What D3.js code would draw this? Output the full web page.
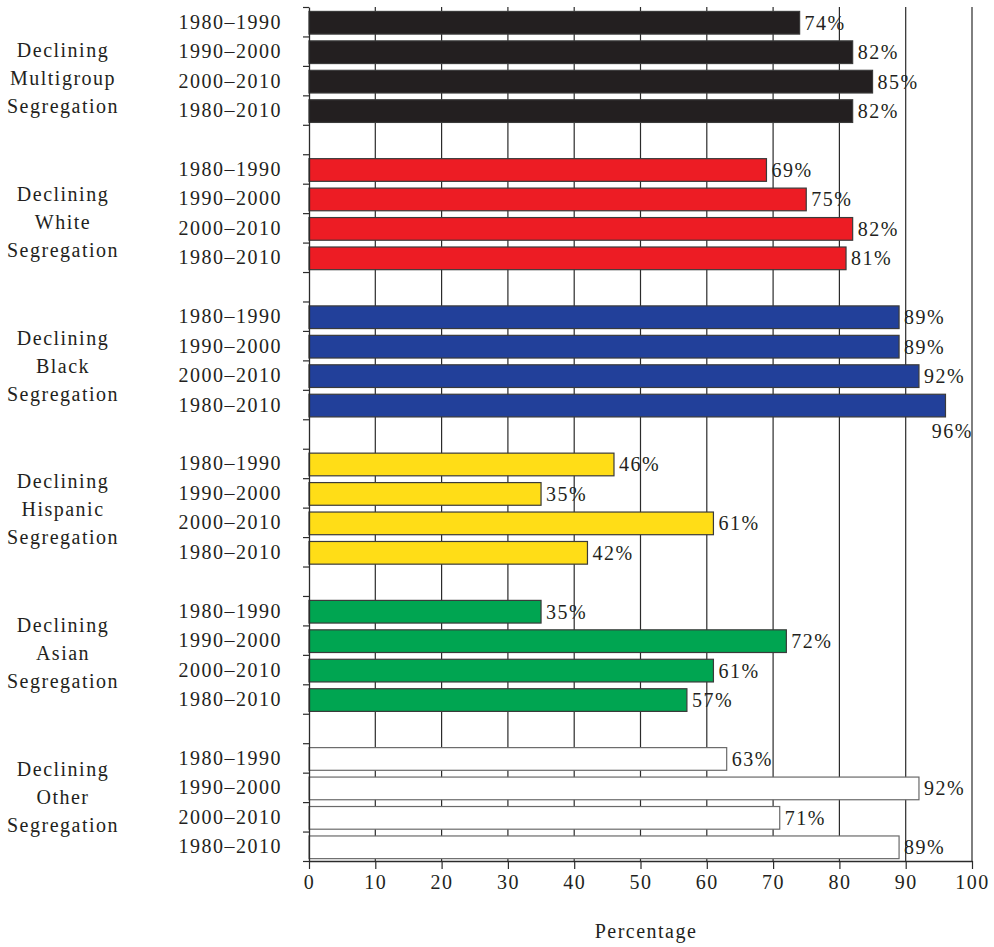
<!DOCTYPE html>
<html>
<head>
<meta charset="utf-8">
<script src="https://cdn.jsdelivr.net/npm/d3@7"></script>
<style>
body { margin: 0; background: #fff; }
svg text { font-family: "Liberation Serif", "Times New Roman", serif; fill: #231f20; letter-spacing: 1.5px; }
</style>
</head>
<body>
<div id="chart"></div>
<script>
// data
var groups = ["Multigroup", "White", "Black", "Hispanic", "Asian", "Other"];
var periods = ["1980–1990", "1990–2000", "2000–2010", "1980–2010"];
var multigroupVals = [74, 82, 85, 82];
var whiteVals = [69, 75, 82, 81];
var blackVals = [89, 89, 92, 96];
var hispanicVals = [46, 35, 61, 42];
var asianVals = [35, 72, 61, 57];
var otherVals = [63, 92, 71, 89];
var groupColors = ["#231f20", "#ed1c24", "#22409a", "#ffdd17", "#00a551", "#ffffff"];
var xTicks = [0, 10, 20, 30, 40, 50, 60, 70, 80, 90, 100];

var seriesVals = [multigroupVals, whiteVals, blackVals, hispanicVals, asianVals, otherVals];

var W = 994, H = 947;
var svg = d3.select("#chart").append("svg").attr("width", W).attr("height", H);

var rowsPerGroup = periods.length + 1, nRows = groups.length * rowsPerGroup - 1;
var x = d3.scaleLinear().domain([0, 100]).range([309, 972]);
var y = d3.scaleLinear().domain([0, nRows]).range([7, 861]);
var band = y(1) - y(0);
// group label middle line positions
var gy = d3.scaleLinear().domain([0, groups.length - 1]).range([78, 797]);

var rows = [];
groups.forEach(function (g, gi) {
    periods.forEach(function (p, pi) {
        rows.push({group: gi, period: p, value: seriesVals[gi][pi], row: gi * rowsPerGroup + pi});
    });
});

// vertical grid lines (behind bars)
svg.append("g").selectAll("line").data(xTicks.filter(function (t) { return t > 0; })).enter()
    .append("line")
    .attr("x1", function (t) { return x(t); }).attr("x2", function (t) { return x(t); })
    .attr("y1", y(0)).attr("y2", y(nRows))
    .attr("stroke", "#2b2b2b").attr("stroke-width", 1.2);

// bars
svg.append("g").selectAll("rect").data(rows).enter()
    .append("rect")
    .attr("x", x(0))
    .attr("y", function (d) { return y(d.row) + band * 0.15; })
    .attr("width", function (d) { return x(d.value) - x(0); })
    .attr("height", band * 0.77)
    .attr("fill", function (d) { return groupColors[d.group]; })
    .attr("stroke", function (d) { return d.group == 5 ? "#6a6a6a" : "#3a3a3a"; })
    .attr("stroke-width", 1.2);

// value labels
var labels = svg.append("g").selectAll("text").data(rows).enter()
    .append("text")
    .attr("font-size", "20px")
    .attr("x", function (d) { return x(d.value) + 5; })
    .attr("y", function (d) { return y(d.row) + band * 0.535; })
    .attr("dy", "0.35em")
    .text(function (d) { return d.value + "%"; });
labels.each(function (d) {
    var w = this.getComputedTextLength();
    if (x(d.value) + 5 + w > x(100)) {
        // no room: drop below the bar, against the right edge
        d3.select(this).attr("text-anchor", "end").attr("x", x(100) + 1)
            .attr("y", y(d.row) + band * 0.92 + 14);
    }
});

// period labels
svg.append("g").selectAll("text").data(rows).enter()
    .append("text")
    .attr("font-size", "20px")
    .attr("text-anchor", "end")
    .attr("x", 282)
    .attr("y", function (d) { return y(d.row) + band * 0.5; })
    .attr("dy", "0.35em")
    .text(function (d) { return d.period; });

// group labels
var gl = svg.append("g").selectAll("text").data(groups).enter()
    .append("text")
    .attr("font-size", "20px")
    .attr("text-anchor", "middle");
[["Declining", -28], [null, 0], ["Segregation", 28]].forEach(function (ln) {
    gl.append("tspan")
        .attr("x", 63)
        .attr("y", function (g, i) { return gy(i) + ln[1]; })
        .attr("dy", "0.35em")
        .text(function (g) { return ln[0] || g; });
});

// left axis with row ticks
var yAxis = d3.axisLeft(y).tickValues(d3.range(nRows + 1)).tickFormat("").tickSize(6).tickSizeOuter(0);
var ya = svg.append("g").attr("transform", "translate(" + x(0) + ",0)").call(yAxis);
ya.selectAll("line").attr("stroke", "#2b2b2b").attr("stroke-width", 1.2);
ya.select(".domain").attr("stroke", "#2b2b2b").attr("stroke-width", 1.3);

// bottom axis
var xAxis = d3.axisBottom(x).tickValues(xTicks).tickSize(8).tickSizeOuter(0).tickPadding(6);
var xa = svg.append("g").attr("transform", "translate(0," + y(nRows) + ")").call(xAxis);
xa.selectAll("line").attr("stroke", "#2b2b2b").attr("stroke-width", 1.2);
xa.select(".domain").attr("stroke", "#2b2b2b").attr("stroke-width", 1.3);
xa.selectAll("text").attr("font-size", "20px").attr("font-family", null).attr("fill", "#231f20");

svg.append("text")
    .attr("font-size", "20px")
    .attr("text-anchor", "middle")
    .attr("x", 646).attr("y", 938)
    .text("Percentage");
</script>
</body>
</html>
